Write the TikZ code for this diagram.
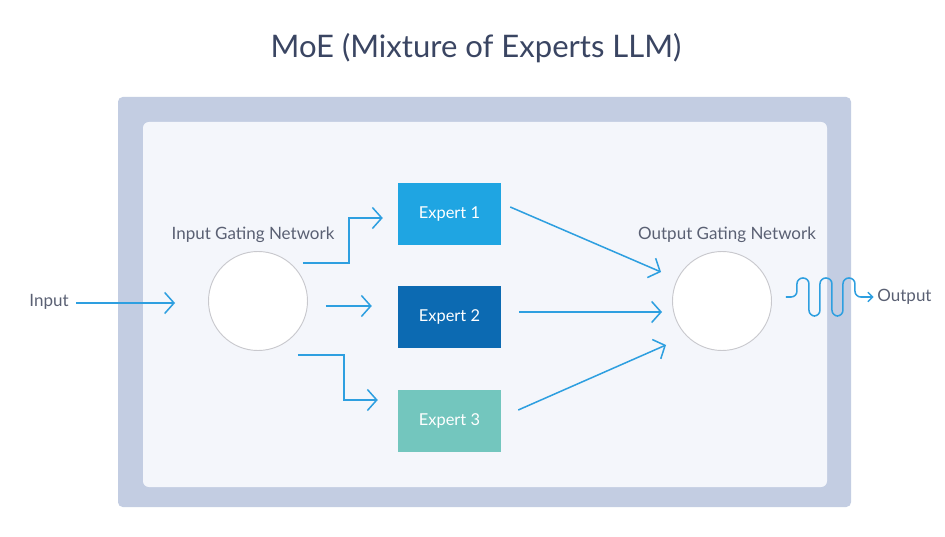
\documentclass[tikz,border=0pt]{standalone}
\usepackage{fontspec}
\setmainfont{Lato}
\usepackage{xcolor}
\usetikzlibrary{arrows.meta, positioning, calc}
\definecolor{frame}{HTML}{C3CDE2}
\definecolor{panel}{HTML}{F4F6FB}
\definecolor{flow}{HTML}{2E9FE0}
\definecolor{expA}{HTML}{1FA5E2}
\definecolor{expB}{HTML}{0C6AB2}
\definecolor{expC}{HTML}{73C6BE}
\definecolor{ring}{HTML}{C9C9CE}
\definecolor{labelgray}{HTML}{5A6073}
\definecolor{titleblue}{HTML}{3A4562}
\tikzstyle{gate} = [circle, minimum size=2.97cm, draw=ring, line width=0.8pt, fill=white]
\tikzstyle{expert} = [rectangle, minimum width=3.09cm, minimum height=1.86cm, text=white, font=\fontsize{14}{16}\selectfont, inner sep=0pt]
\tikzstyle{tag} = [text=labelgray, font=\fontsize{14.5}{17}\selectfont, inner sep=1pt]
\tikzstyle{arrow} = [draw=flow, line width=1.3pt, -{Straight Barb[length=8pt, width=18pt, line width=1.3pt]}]

\begin{document}
\begin{tikzpicture}[x=0.03cm, y=-0.03cm]
    \useasboundingbox (0,0) rectangle (945,537);

    % Title
    \node[text=titleblue, font=\fontsize{26.5}{30}\selectfont] (title) at (476,48) {MoE (Mixture of Experts LLM)};

    % Frame and panel
    \fill[frame, rounded corners=4pt] (118,97) rectangle (851,507);
    \fill[panel, rounded corners=5pt] (143,122) rectangle (827,487);

    % Gating networks
    \node[gate] (ig) at (258,301) {};
    \node[tag] (iglabel) at (253,235) {Input Gating Network};
    \node[gate] (og) at (722,301) {};
    \node[tag] (oglabel) at (727,235) {Output Gating Network};

    % Experts
    \node[expert, fill=expA] (e1) at (449.5,214) {Expert 1};
    \node[expert, fill=expB] (e2) at (449.5,317) {Expert 2};
    \node[expert, fill=expC] (e3) at (449.5,421) {Expert 3};

    % Input and output
    \node[tag] (in) at (49,302) {Input};
    \node[tag, anchor=west] (out) at (876,297) {Output};

    % Arrows into the experts
    \draw[arrow] (in.east) ++(6,1) -- ([shift={(-33,2)}]ig.west);
    \draw[arrow] ([shift={(-5,-38)}]ig.east) -- ++(46,0) |- ([shift={(-15,4)}]e1.west);
    \draw[arrow] ([shift={(18,5)}]ig.east) -- ([shift={(-26,-11)}]e2.west);
    \draw[arrow] ([shift={(-10,54)}]ig.east) -- ++(46,0) |- ([shift={(-20,-21)}]e3.west);

    % Arrows into the output gate
    \draw[arrow] ([shift={(9,-7)}]e1.east) -- ([shift={(-11,-29)}]og.west);
    \draw[arrow] ([shift={(18,-5)}]e2.east) -- ([shift={(-10,11)}]og.west);
    \draw[arrow] ([shift={(17,-11)}]e3.east) -- ([shift={(-6,44)}]og.west);

    % Output wave
    \draw[flow, line width=1.3pt, rounded corners=5pt, -{Straight Barb[length=4pt, width=8pt, line width=1.3pt]}]
        ([shift={(14,-4)}]og.east) -- ++(11,0) -- ++(0,-19) -- ++(12,0) -- ++(0,38) -- ++(11,0)
        -- ++(0,-38) -- ++(12,0) -- ++(0,38) -- ++(11,0) -- ++(0,-38) -- ++(12,0) -- ++(0,19)
        -- ([xshift=-2pt]out.west);
\end{tikzpicture}
\end{document}
